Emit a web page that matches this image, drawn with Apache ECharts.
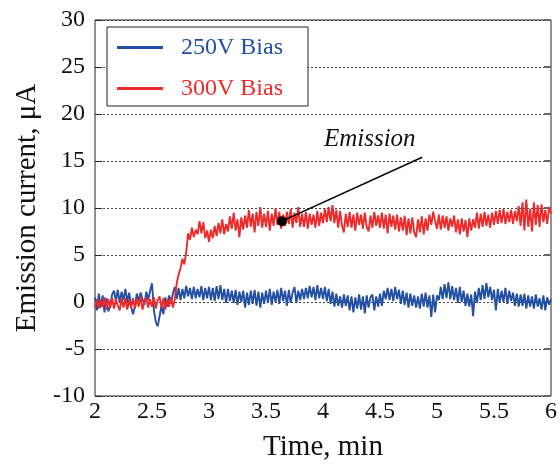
<!DOCTYPE html>
<html>
<head>
<meta charset="utf-8">
<script src="https://cdn.jsdelivr.net/npm/echarts@6/dist/echarts.min.js"></script>
<style>
html,body{margin:0;padding:0;background:#fff;}
#chart{width:560px;height:467px;}
</style>
</head>
<body>
<div id="chart"></div>
<script>
// Sampling grid: one reading per second, from 2 to 6 min
const startMin = 2;
const stepMin = 1 / 60;

// 250V Bias emission current (µA), one value per second
const bias250 = [
  0.5,-0.9,0.9,-0.6,0.7,-1.1,0.4,-1.0,-0.5,0.8,
  1.2,0.1,1.3,-0.1,1.1,0.2,1.4,0.0,1.0,-0.5,
  -1.3,-0.5,0.9,0.1,1.0,0.3,-0.3,1.1,0.2,1.2,
  2.0,-0.9,-2.1,-2.6,-1.5,-0.4,-1.3,0.5,-0.5,0.7,
  -0.2,0.9,1.6,0.3,1.5,0.2,1.4,0.4,1.7,0.6,
  1.5,0.3,1.6,0.4,1.4,0.5,1.7,0.2,1.5,0.4,
  1.6,0.2,1.5,0.1,1.7,0.3,1.8,0.2,1.4,-0.1,
  1.4,0.1,1.2,-0.1,1.3,-0.3,1.1,0.0,1.2,-0.6,
  1.0,-0.3,1.2,-0.2,1.3,-0.4,1.1,-0.6,1.0,-0.2,
  1.2,-0.1,1.4,-0.3,1.1,0.0,1.3,-0.2,1.5,0.1,
  1.2,-0.4,1.3,-0.1,1.0,1.6,-0.1,1.2,0.2,1.4,
  0.3,1.5,0.4,1.7,0.5,1.6,0.2,1.8,0.4,1.5,
  0.3,1.6,0.1,1.4,-0.2,1.1,-0.5,0.9,-0.4,0.6,
  -0.6,0.8,-0.4,0.7,-0.9,0.6,-1.1,0.5,-0.7,0.8,
  -0.8,0.6,-1.2,0.7,-0.6,0.5,0.8,-0.9,0.6,-0.5,
  0.9,-0.4,1.2,0.3,1.5,0.2,1.4,0.1,1.6,0.3,
  1.3,-0.2,1.2,-0.3,1.0,-0.6,0.9,-0.4,0.7,-0.6,
  0.6,-0.7,0.9,-0.5,1.0,-0.6,0.7,-1.6,0.8,-1.1,
  0.7,0.2,1.6,0.3,1.9,0.4,2.1,0.3,1.7,0.2,
  1.5,-0.1,1.6,0.0,1.2,-0.4,0.9,-0.5,0.8,-1.5,
  1.1,-0.1,1.5,0.2,1.8,0.3,2.0,0.5,1.6,0.2,
  1.3,-0.9,1.4,-0.1,1.2,0.0,1.5,-0.2,1.2,0.1,
  1.0,-0.4,0.9,-0.5,0.8,-0.4,0.9,-0.7,0.7,-0.5,
  0.6,-0.7,0.8,-0.5,0.4,-0.8,0.7,-0.9,0.5,-0.3,
  0.3
];

// 300V Bias emission current (µA), one value per second
const bias300 = [
  -0.6,0.3,-0.7,0.2,-0.5,0.5,-0.8,0.3,-0.6,0.4,
  -0.7,0.3,-0.4,-0.9,0.4,-0.6,0.4,-0.8,0.2,-0.6,
  0.4,-0.7,0.3,-0.5,0.6,-0.8,0.1,0.5,-0.6,0.3,
  -0.5,0.5,-0.7,0.2,0.6,-0.6,0.4,-0.8,0.3,-0.5,
  0.5,-0.6,0.3,2.0,2.9,3.6,4.6,4.0,5.3,7.3,
  6.6,7.9,6.9,7.7,7.2,8.6,7.3,8.5,6.8,7.6,
  6.4,7.7,6.8,8.1,7.0,8.4,7.3,8.8,7.2,8.3,
  7.5,9.1,7.8,9.5,7.6,8.8,6.9,9.0,7.7,9.2,
  7.9,9.8,8.0,9.4,7.4,9.6,8.1,10.1,7.9,9.4,
  8.0,9.7,7.6,9.4,8.1,10.0,8.2,9.6,7.8,9.3,
  8.1,9.6,8.3,9.9,7.9,9.5,8.4,10.1,8.0,9.4,
  8.0,9.6,7.8,9.4,8.2,9.3,7.9,9.7,8.1,9.5,
  8.4,9.9,8.5,10.1,8.6,10.3,8.4,9.8,7.9,9.7,
  8.1,7.4,9.4,8.0,9.6,7.9,9.3,7.6,9.5,8.2,
  9.3,7.8,9.5,8.0,7.5,9.2,7.9,9.6,8.1,9.2,
  7.9,9.5,7.8,9.3,7.3,9.4,8.0,9.2,7.7,9.3,
  7.5,9.0,7.6,9.2,7.1,8.9,7.3,9.0,7.4,6.9,
  8.8,7.4,9.1,7.2,8.9,7.6,9.3,8.2,9.6,8.6,
  7.8,9.3,7.7,9.2,7.9,9.1,7.6,8.9,8.0,9.2,
  7.4,8.8,7.2,8.9,7.5,8.7,6.9,8.9,7.6,8.8,
  7.9,9.5,7.8,9.4,8.0,9.6,8.1,9.3,7.9,9.5,
  8.2,9.7,8.3,9.8,8.4,9.9,8.3,9.6,8.5,9.8,
  8.3,9.7,8.6,10.2,8.1,10.6,7.6,10.9,8.0,9.9,
  7.5,10.6,8.2,10.3,8.0,10.4,8.5,9.8,8.3,10.1,
  9.4
];

const seriesNames = ['250V Bias', '300V Bias'];
const seriesColors = ['#2350a3', '#ee2a2a'];

// Annotation (data coordinates)
const annotationText = 'Emission';
const annotationTextAt = [4.41, 17.3];
const arrowFrom = [4.87, 15.4];
const arrowTo = [3.64, 8.6];

const xMin = 2, xMax = 6, xStep = 0.5;
const yMin = -10, yMax = 30, yStep = 5;

const times = bias300.map((_, i) => +(startMin + i * stepMin).toFixed(5));
const pairs = arr => arr.map((v, i) => [times[i], v]);

const FONT = 'Liberation Serif';
const chart = echarts.init(document.getElementById('chart'), null, {renderer: 'canvas'});

chart.setOption({
  animation: false,
  backgroundColor: '#fff',
  grid: {left: 95, right: 7, top: 20, bottom: 70, show: true, borderColor: '#222', borderWidth: 1, backgroundColor: 'transparent'},
  legend: {
    orient: 'vertical',
    left: 107, top: 27,
    padding: [8, 25, 5, 10],
    itemGap: 16,
    itemWidth: 46, itemHeight: 3,
    icon: 'rect',
    borderColor: '#222', borderWidth: 1,
    backgroundColor: '#fff',
    textStyle: {fontFamily: FONT, fontSize: 24, lineHeight: 25, padding: [0, 0, 0, 13]},
    data: seriesNames.map((n, i) => ({name: n, textStyle: {color: seriesColors[i]}}))
  },
  xAxis: {
    type: 'value', min: xMin, max: xMax, interval: xStep,
    name: 'Time, min', nameLocation: 'middle', nameGap: 37,
    nameTextStyle: {fontFamily: FONT, fontSize: 29, color: '#111'},
    axisLine: {show: false},
    axisTick: {show: false},
    splitLine: {show: false},
    axisLabel: {fontFamily: FONT, fontSize: 24, color: '#111', margin: 4}
  },
  yAxis: [{
    type: 'value', min: yMin, max: yMax, interval: yStep,
    name: 'Emission current, μA', nameLocation: 'middle', nameGap: 52,
    nameTextStyle: {fontFamily: FONT, fontSize: 29, color: '#111'},
    axisLine: {show: false},
    axisTick: {show: true, inside: true, length: 7, lineStyle: {color: '#222'}},
    splitLine: {show: true, lineStyle: {type: [2, 2], color: '#444', width: 1}},
    axisLabel: {fontFamily: FONT, fontSize: 24, color: '#111', margin: 10}
  }, {
    type: 'value', min: yMin, max: yMax, interval: yStep, position: 'right',
    axisLine: {show: false},
    axisTick: {show: true, inside: true, length: 7, lineStyle: {color: '#666', width: 2}},
    splitLine: {show: false},
    axisLabel: {show: false}
  }],
  series: [{
    name: seriesNames[0], type: 'line', data: pairs(bias250),
    showSymbol: false, symbol: 'none',
    lineStyle: {color: seriesColors[0], width: 1.9, join: 'bevel'},
    itemStyle: {color: seriesColors[0]},
    z: 2
  }, {
    name: seriesNames[1], type: 'line', data: pairs(bias300),
    showSymbol: false, symbol: 'none',
    lineStyle: {color: seriesColors[1], width: 1.9, join: 'bevel'},
    itemStyle: {color: seriesColors[1]},
    z: 3,
    markLine: {
      silent: true, animation: false,
      symbol: 'none',
      lineStyle: {color: '#000', width: 1.5, type: 'solid'},
      label: {show: false},
      data: [[{coord: arrowFrom}, {coord: arrowTo}]]
    },
    markPoint: {
      silent: true, animation: false,
      data: [{
        coord: annotationTextAt, symbol: 'circle', symbolSize: 1,
        itemStyle: {color: 'rgba(0,0,0,0)'},
        label: {show: true, position: 'inside', formatter: annotationText, fontFamily: FONT, fontStyle: 'italic', fontSize: 25, color: '#111'}
      }, {
        coord: arrowTo, symbol: 'circle', symbolSize: 10,
        itemStyle: {color: '#000'},
        label: {show: false}
      }]
    }
  }]
});
</script>
</body>
</html>
